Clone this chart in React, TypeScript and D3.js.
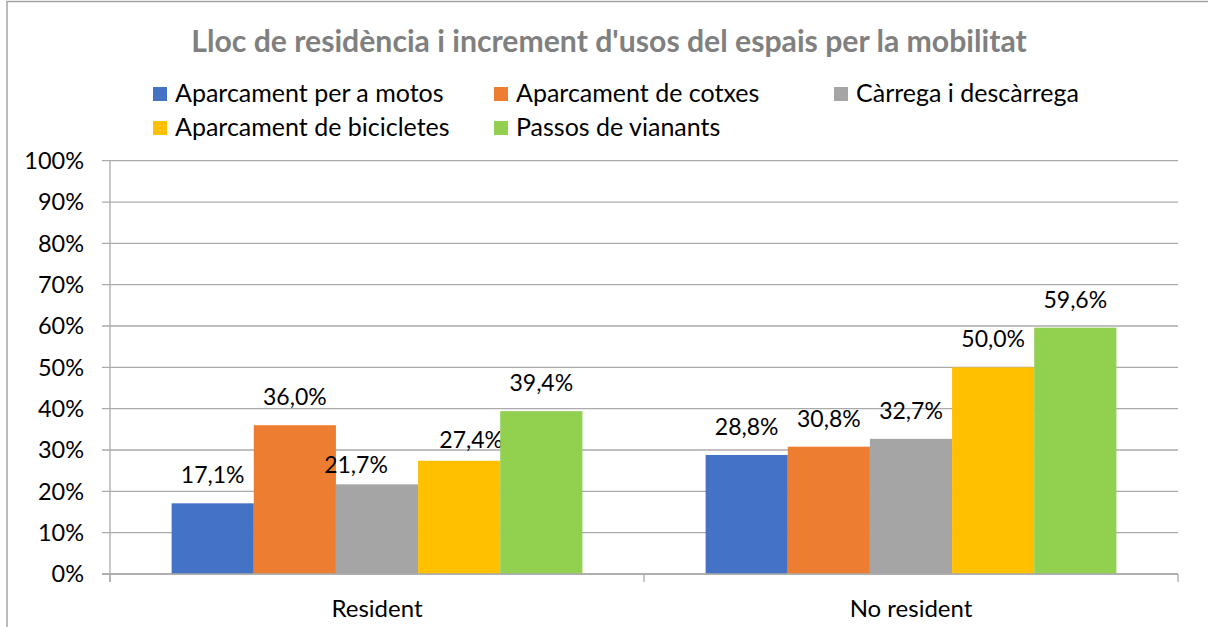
import * as d3 from 'd3';

const categories = ['Resident', 'No resident'];
const seriesNames = [
  'Aparcament per a motos',
  'Aparcament de cotxes',
  'Càrrega i descàrrega',
  'Aparcament de bicicletes',
  'Passos de vianants',
];
const seriesColors = ['#4472c4', '#ed7d31', '#a5a5a5', '#ffc000', '#92d050'];
// values per series: [Resident, No resident]
const motos = [17.1, 28.8];
const cotxes = [36.0, 30.8];
const carrega = [21.7, 32.7];
const bicicletes = [27.4, 50.0];
const vianants = [39.4, 59.6];
const seriesValues = [motos, cotxes, carrega, bicicletes, vianants];
const yTicks = [0, 10, 20, 30, 40, 50, 60, 70, 80, 90, 100];

// hand-moved data labels in the original (series index, category index)
const labelNudge: Record<string, [number, number]> = {
  '2-0': [-21, 9],
  '3-0': [12, 7],
};

const W = 1208;
const H = 627;
const plot = { left: 110, right: 1178, top: 160.7, bottom: 574 };
const font = 'Lato, "Open Sans", sans-serif';

export default function App() {
  const x0 = d3.scaleBand<string>().domain(categories).range([plot.left, plot.right]);
  const x1 = d3
    .scaleBand<string>()
    .domain(seriesNames)
    .range([0, x0.bandwidth()])
    .paddingInner(0)
    .paddingOuter(0.75);
  const y = d3.scaleLinear().domain([0, 100]).range([plot.bottom, plot.top]);
  const fmt = (v: number) => v.toFixed(1).replace('.', ',') + '%';

  const legendPos = [
    [153, 87],
    [494, 87],
    [834, 87],
    [153, 121],
    [494, 121],
  ];

  return (
    <svg
      width={W}
      height={H}
      style={{ position: 'absolute', left: 0, top: 0, background: '#fff' }}
      fontFamily={font}
    >
      <rect x={7} y={1.5} width={1400} height={800} fill="#fff" stroke="#a0a0a0" strokeWidth={1.4} />

      <text x={609} y={52} textAnchor="middle" fontSize={30.2} fontWeight="bold" fill="#808080">
        Lloc de residència i increment d'usos del espais per la mobilitat
      </text>

      {seriesNames.map((name, i) => (
        <g key={name} transform={`translate(${legendPos[i][0]},${legendPos[i][1]})`}>
          <rect width={14} height={14} fill={seriesColors[i]} />
          <text x={22} y={14.7} fontSize={25} fill="#000">
            {name}
          </text>
        </g>
      ))}

      {/* gridlines + y ticks */}
      {yTicks.map((t) => (
        <g key={t}>
          <line
            x1={plot.left - 8}
            x2={plot.right}
            y1={y(t)}
            y2={y(t)}
            stroke="#ababab"
            strokeWidth={1.3}
          />
          <text x={84} y={y(t)} dy="0.36em" textAnchor="end" fontSize={23.5} fill="#000">
            {t}%
          </text>
        </g>
      ))}

      {/* y axis */}
      <line x1={plot.left} x2={plot.left} y1={plot.top} y2={plot.bottom + 8} stroke="#ababab" strokeWidth={1.3} />
      {/* category ticks */}
      {[...categories.map((c) => x0(c) as number), plot.right].map((xx, i) => (
        <line key={i} x1={xx} x2={xx} y1={plot.bottom} y2={plot.bottom + 8} stroke="#ababab" strokeWidth={1.3} />
      ))}

      {categories.map((cat, ci) => (
        <g key={cat} transform={`translate(${x0(cat)},0)`}>
          {seriesNames.map((name, si) => {
            const v = seriesValues[si][ci];
            const bx = x1(name) as number;
            const bw = x1.bandwidth();
            const nudge = labelNudge[`${si}-${ci}`] || [0, 0];
            return (
              <g key={name}>
                <rect x={bx} y={y(v)} width={bw} height={y(0) - y(v)} fill={seriesColors[si]} />
                <text
                  x={bx + bw / 2 + nudge[0]}
                  y={y(v) - 20 + nudge[1]}
                  textAnchor="middle"
                  fontSize={23}
                  fill="#000"
                >
                  {fmt(v)}
                </text>
              </g>
            );
          })}
          <text x={x0.bandwidth() / 2} y={617} textAnchor="middle" fontSize={24} fill="#000">
            {cat}
          </text>
        </g>
      ))}

      {/* x axis */}
      <line x1={plot.left - 8} x2={plot.right} y1={plot.bottom} y2={plot.bottom} stroke="#ababab" strokeWidth={1.3} />
    </svg>
  );
}
